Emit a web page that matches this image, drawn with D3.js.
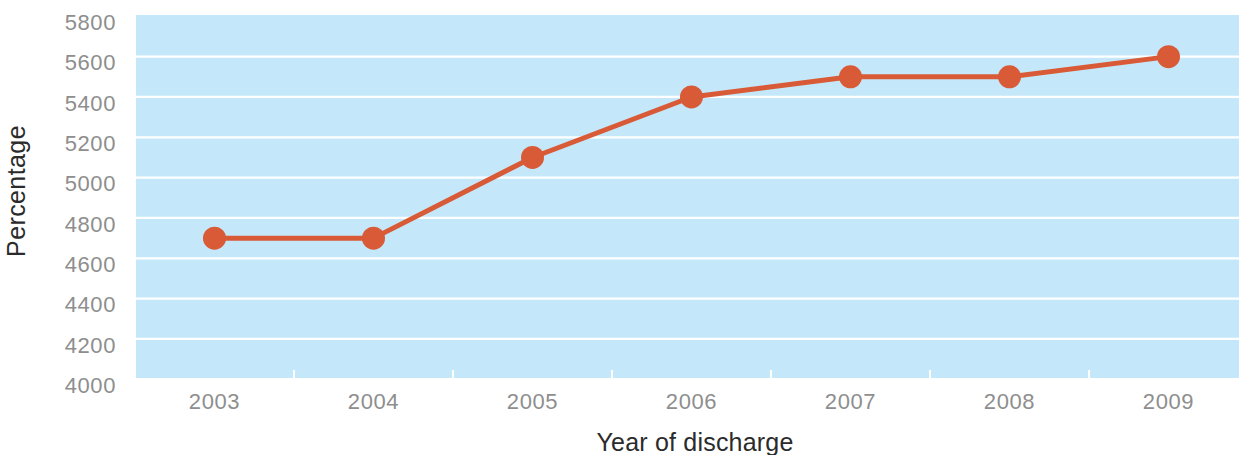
<!DOCTYPE html>
<html>
<head>
<meta charset="utf-8">
<script src="https://cdn.jsdelivr.net/npm/d3@7"></script>
<style>
  html, body { margin: 0; padding: 0; background: #fff; }
  svg { display: block; font-family: "Liberation Sans", Arial, Helvetica, sans-serif; }
</style>
</head>
<body>
<svg id="chart" width="1239" height="455"></svg>
<script>
const years = ["2003", "2004", "2005", "2006", "2007", "2008", "2009"];
const values = [4700, 4700, 5100, 5400, 5500, 5500, 5600];
const yTicks = [4000, 4200, 4400, 4600, 4800, 5000, 5200, 5400, 5600, 5800];
const yTitle = "Percentage";
const xTitle = "Year of discharge";

const svg = d3.select("#chart");
const W = 1239, H = 455;
const plotLeft = 136, plotTop = 15, plotBottom = 378;

const x = d3.scaleBand().domain(years).range([135, 1248]).padding(0);
const y = d3.scaleLinear().domain([4000, 5800]).range([379.3, 16.3]);

// background
svg.append("rect")
  .attr("x", plotLeft).attr("y", plotTop)
  .attr("width", W - plotLeft).attr("height", plotBottom - plotTop)
  .attr("fill", "#c4e8fa");

// grid lines
svg.append("g").selectAll("line")
  .data(yTicks.filter(v => v > 4000 && v < 5800))
  .join("line")
  .attr("x1", plotLeft).attr("x2", W)
  .attr("y1", d => y(d)).attr("y2", d => y(d))
  .attr("stroke", "#ffffff").attr("stroke-width", 2.2);

// band ticks at bottom
svg.append("g").selectAll("line")
  .data(years.slice(1))
  .join("line")
  .attr("x1", d => x(d)).attr("x2", d => x(d))
  .attr("y1", plotBottom - 8).attr("y2", plotBottom)
  .attr("stroke", "#ffffff").attr("stroke-width", 2);

// y tick labels
svg.append("g").selectAll("text")
  .data(yTicks)
  .join("text")
  .attr("x", 116)
  .attr("y", d => y(d) + 13.8)
  .attr("text-anchor", "end")
  .attr("font-size", 22)
  .attr("letter-spacing", 0.6)
  .attr("fill", "#8e8e8e")
  .text(d => d);

// x tick labels
svg.append("g").selectAll("text")
  .data(years)
  .join("text")
  .attr("x", d => x(d) + x.bandwidth() / 2)
  .attr("y", 408.5)
  .attr("text-anchor", "middle")
  .attr("font-size", 22)
  .attr("letter-spacing", 0.6)
  .attr("fill", "#8e8e8e")
  .text(d => d);

// axis titles
svg.append("text")
  .attr("transform", "translate(25,191) rotate(-90)")
  .attr("text-anchor", "middle")
  .attr("font-size", 25)
  .attr("letter-spacing", 0.4)
  .attr("fill", "#2b2b2b")
  .text(yTitle);

svg.append("text")
  .attr("x", 695).attr("y", 450.5)
  .attr("text-anchor", "middle")
  .attr("font-size", 25)
  .attr("letter-spacing", 0.2)
  .attr("fill", "#2b2b2b")
  .text(xTitle);

// line
const data = years.map((yr, i) => ({ yr, v: values[i] }));
const line = d3.line()
  .x(d => x(d.yr) + x.bandwidth() / 2)
  .y(d => y(d.v));

svg.append("path")
  .datum(data)
  .attr("d", line)
  .attr("fill", "none")
  .attr("stroke", "#d95a36")
  .attr("stroke-width", 5)
  .attr("stroke-linejoin", "round");

svg.append("g").selectAll("circle")
  .data(data)
  .join("circle")
  .attr("cx", d => x(d.yr) + x.bandwidth() / 2)
  .attr("cy", d => y(d.v))
  .attr("r", 11.5)
  .attr("fill", "#d95a36");
</script>
</body>
</html>
